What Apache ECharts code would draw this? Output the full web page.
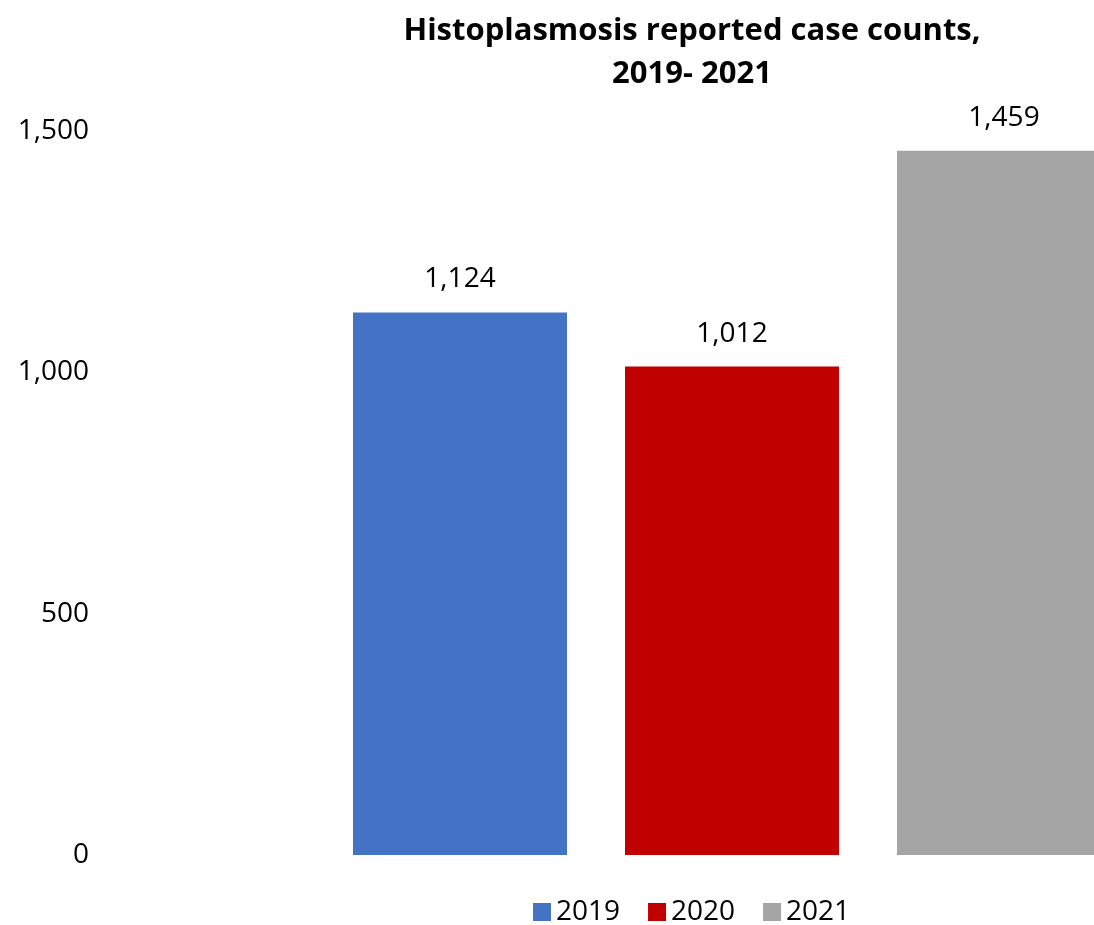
<!DOCTYPE html>
<html>
<head>
<meta charset="utf-8">
<title>Histoplasmosis reported case counts, 2019- 2021</title>
<script src="https://cdn.jsdelivr.net/npm/echarts@6/dist/echarts.min.js"></script>
<style>
  html, body { margin: 0; padding: 0; background: #ffffff; }
  #chart { width: 1094px; height: 925px; }
</style>
</head>
<body>
<div id="chart"></div>
<script>
// Reported histoplasmosis cases per year
const years = ['2019', '2020', '2021'];
const caseCounts = [1124, 1012, 1459];

// Value axis range
const axisMin = 0;
const axisMax = 1500;
const axisStep = 500;

const palette = ['#4472C4', '#C00000', '#A5A5A5'];
const FONT = '"Open Sans", "Noto Sans", sans-serif';

const fmt = v => Number(v).toLocaleString('en-US');

const chart = echarts.init(document.getElementById('chart'), null, { renderer: 'canvas' });

const series = years.map((y, i) => ({
  name: y,
  type: 'bar',
  data: [caseCounts[i]],
  barWidth: 214,
  barGap: '27.1%',
  itemStyle: { color: palette[i] },
  label: {
    show: true,
    position: 'top',
    distance: 19,
    formatter: p => fmt(p.value),
    color: '#000',
    fontFamily: FONT,
    fontSize: 28
  },
  emphasis: { disabled: true }
}));

chart.setOption({
  animation: false,
  backgroundColor: '#ffffff',
  title: {
    text: 'Histoplasmosis reported case counts,\n2019- 2021',
    left: 687,
    top: 5,
    textAlign: 'center',
    textStyle: {
      fontFamily: FONT,
      fontWeight: 'bold',
      fontSize: 31,
      lineHeight: 43,
      color: '#000'
    }
  },
  legend: {
    data: years,
    left: 533,
    top: 897,
    itemWidth: 18,
    itemHeight: 18,
    itemGap: 28,
    icon: 'rect',
    padding: 0,
    textStyle: { fontFamily: FONT, fontSize: 28, lineHeight: 30, color: '#000' }
  },
  grid: {
    left: 100,
    right: -270,
    top: 131,
    bottom: 70,
    containLabel: false,
    outerBoundsMode: 'none'
  },
  xAxis: {
    type: 'category',
    data: [''],
    axisLine: { show: false },
    axisTick: { show: false },
    axisLabel: { show: false },
    splitLine: { show: false }
  },
  yAxis: {
    type: 'value',
    min: axisMin,
    max: axisMax,
    interval: axisStep,
    axisLine: { show: false },
    axisTick: { show: false },
    splitLine: { show: false },
    axisLabel: {
      margin: 11,
      formatter: v => fmt(v),
      color: '#000',
      fontFamily: FONT,
      fontSize: 28
    }
  },
  series: series
});
</script>
</body>
</html>
